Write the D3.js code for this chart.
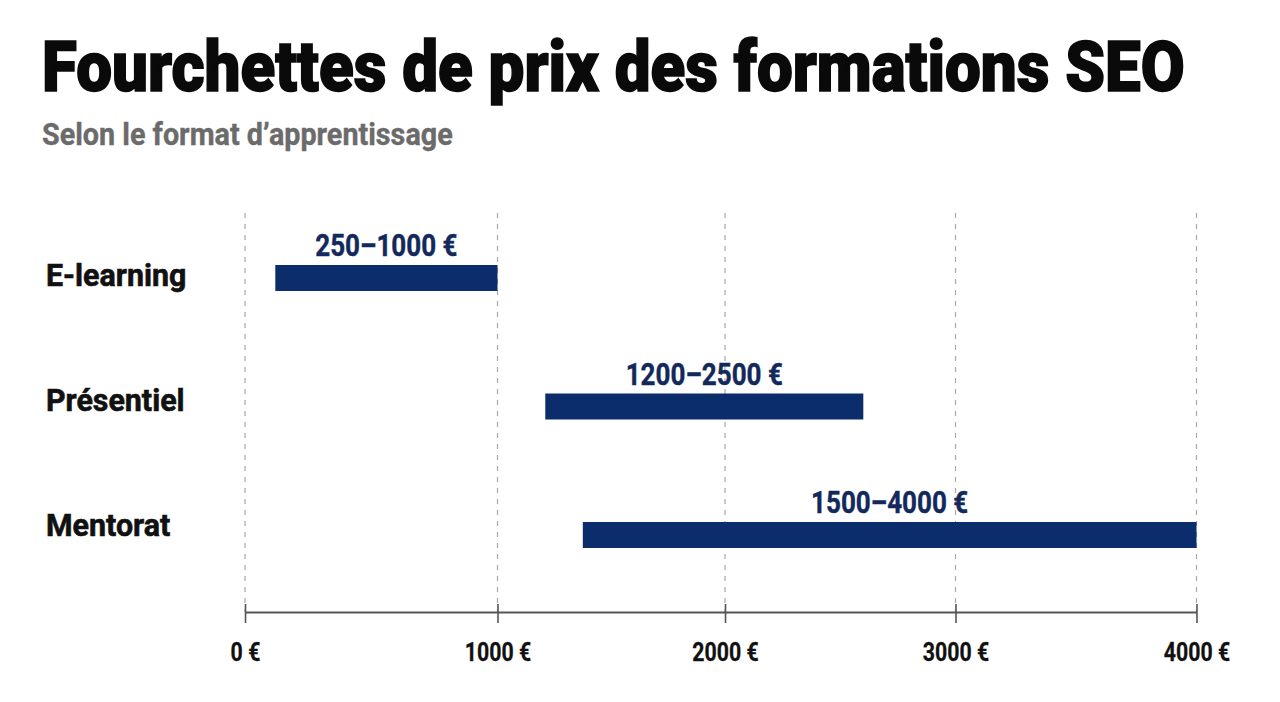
<!DOCTYPE html>
<html>
<head>
<meta charset="utf-8">
<script src="https://cdn.jsdelivr.net/npm/d3@7"></script>
<style>
  html, body { margin: 0; padding: 0; background: #ffffff; }
  svg { display: block; font-family: Roboto, "Noto Sans", "DejaVu Sans", sans-serif; }
</style>
</head>
<body>
<svg id="chart" width="1280" height="702"></svg>
<script>
// ---- data ----
const titleText = "Fourchettes de prix des formations SEO";
const subtitleText = "Selon le format d\u2019apprentissage";
const categories = ["E-learning", "Présentiel", "Mentorat"];
const rangeStart = [120, 1210, 1375];   // bar starts as drawn (€)
const rangeEnd = [1000, 2600, 4000];    // bar ends as drawn (€)
const rangeLabels = ["250\u20131000 €", "1200\u20132500 €", "1500\u20134000 €"];
const tickValues = [0, 1000, 2000, 3000, 4000];
const tickLabels = ["0 €", "1000 €", "2000 €", "3000 €", "4000 €"];

// ---- layout ----
const svg = d3.select("#chart");
const navy = "#0b2d6b";

// piecewise x scale (the reference's axis spacing is not perfectly even)
const x = d3.scaleLinear()
  .domain(tickValues)
  .range([245, 497.5, 725, 955.5, 1196.5]);

const y = d3.scalePoint()
  .domain(categories)
  .range([278, 535]);

// baselines of the category names
const yLabel = d3.scalePoint()
  .domain(categories)
  .range([286, 536]);

const barH = 26;
const axisY = 612;
const gridTop = 213;

// horizontally condensed text: a group placed at (px,py) scaled by f on x
function condensedText(parent, px, py, f, str, attrs) {
  const g = parent.append("g").attr("transform", `translate(${px},${py}) scale(${f},1)`);
  const t = g.append("text").attr("x", 0).attr("y", 0).text(str);
  Object.entries(attrs).forEach(([k, v]) => t.attr(k, v));
  return t;
}
function fittedText(parent, px, py, target, str, attrs) {
  const g = parent.append("g");
  const t = g.append("text").attr("x", 0).attr("y", 0).text(str);
  Object.entries(attrs).forEach(([k, v]) => t.attr(k, v));
  const w = t.node().getComputedTextLength();
  g.attr("transform", `translate(${px},${py}) scale(${target / w},1)`);
  return t;
}

// title
fittedText(svg, 42, 91, 1143, titleText, {
  "font-size": 70, "font-weight": 900, fill: "#0a0a0a",
  stroke: "#0a0a0a", "stroke-width": 1.6
});

// subtitle
fittedText(svg, 42, 145, 411, subtitleText, {
  "font-size": 32, "font-weight": 700, fill: "#6b6b6b",
  stroke: "#6b6b6b", "stroke-width": 0.4
});

// gridlines
svg.append("g").selectAll("line")
  .data(tickValues)
  .join("line")
  .attr("x1", d => x(d)).attr("x2", d => x(d))
  .attr("y1", gridTop).attr("y2", axisY)
  .attr("stroke", "#a8a8a8")
  .attr("stroke-width", 1.2)
  .attr("stroke-dasharray", "5,6");

// axis
const axis = d3.axisBottom(x)
  .tickValues(tickValues)
  .tickFormat((d, i) => tickLabels[i])
  .tickSize(11)
  .tickSizeOuter(0)
  .tickPadding(0);

const gAxis = svg.append("g")
  .attr("transform", `translate(0,${axisY})`)
  .call(axis);
gAxis.select(".domain").attr("stroke", "#555").attr("stroke-width", 2);
gAxis.selectAll(".tick line").attr("stroke", "#555").attr("stroke-width", 1.6).attr("y1", -8);
gAxis.selectAll(".tick text")
  .attr("y", 49).attr("dy", null)
  .attr("transform", "scale(0.82,1)")
  .attr("font-size", 26).attr("font-weight", 700)
  .attr("font-family", "Roboto, 'Noto Sans', sans-serif")
  .attr("fill", "#111")
  .attr("stroke", "#111").attr("stroke-width", 0.3);

// bars
const rows = categories.map((c, i) => ({ c, s: rangeStart[i], e: rangeEnd[i], label: rangeLabels[i] }));

svg.append("g").selectAll("rect")
  .data(rows)
  .join("rect")
  .attr("x", d => x(d.s))
  .attr("width", d => x(d.e) - x(d.s))
  .attr("y", d => y(d.c) - barH / 2)
  .attr("height", barH)
  .attr("fill", navy);

// range labels
const gRange = svg.append("g");
rows.forEach(d => {
  condensedText(gRange, (x(d.s) + x(d.e)) / 2, y(d.c) - barH / 2 - 9, 0.84, d.label, {
    "text-anchor": "middle", "font-size": 31, "font-weight": 700,
    fill: "#13295c", stroke: "#13295c", "stroke-width": 0.4
  });
});

// category labels
const gCat = svg.append("g");
categories.forEach(c => {
  condensedText(gCat, 46, yLabel(c), 0.98, c, {
    "font-size": 31, "font-weight": 700,
    fill: "#111", stroke: "#111", "stroke-width": 0.6
  });
});
</script>
</body>
</html>
